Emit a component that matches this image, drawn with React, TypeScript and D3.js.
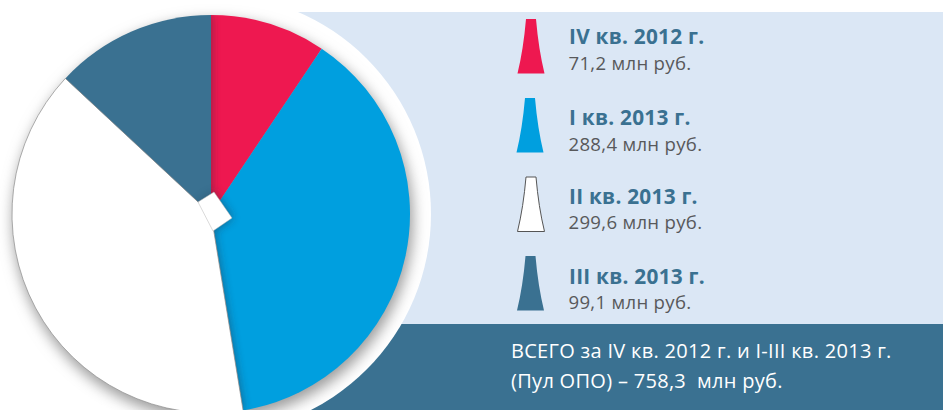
import React from "react";
import * as d3 from "d3";

const W = 943, H = 410;
const quarters = ["IV кв. 2012 г.", "I кв. 2013 г.", "II кв. 2013 г.", "III кв. 2013 г."];
const values = [71.2, 288.4, 299.6, 99.1];
const valueLabels = ["71,2 млн руб.", "288,4 млн руб.", "299,6 млн руб.", "99,1 млн руб."];
const colors = ["#ee1850", "#009fdf", "#ffffff", "#3a7191"];
const totalLines = ["ВСЕГО за IV кв. 2012 г. и I-III кв. 2013 г.", "(Пул ОПО) – 758,3  млн руб."];

const cx = 211, cy = 214, R = 199, ringR = 220;
const FONT = "'Open Sans', sans-serif";

const arcs = d3.pie<number>().sort(null)(values);
const arcGen = d3.arc<d3.PieArcDatum<number>>().innerRadius(0).outerRadius(R);

// White rotated tab at the pie centre, relative to (cx, cy)
const notch = [[-13, -12], [3, -22], [21, 4], [2, 17]];
const notchPath = d3.line()(notch as [number, number][]) + "Z";

// Legend glyph: a narrow-topped flared bell, drawn in unit space
const bellX = d3.scaleLinear().domain([-1, 1]).range([-13.5, 13.5]);
const bellY = d3.scaleLinear().domain([0, 1]).range([0, 54.5]);
const bellPts: [number, number][] = [[-0.37, 0], [0.37, 0], [0.56, 0.55], [1, 1], [-1, 1], [-0.56, 0.55]];
const bellPath = (() => {
  const p = bellPts.map(([x, y]) => [bellX(x), bellY(y)]);
  return `M${p[0]}L${p[1]}Q${p[2]} ${p[3]}L${p[4]}Q${p[5]} ${p[0]}Z`;
})();
const legendX = [531, 530, 531, 530.5];
const legendTop = [19, 98, 177, 256];
const headerBase = [44, 125, 204, 284];
const valueBase = [70, 151, 229, 309];
const pieT = `translate(${cx},${cy})`;

export default function App() {
  return (
    <svg width={W} height={H} viewBox={`0 0 ${W} ${H}`} style={{ position: "fixed", left: 0, top: 0, background: "#fff" }}>
      <defs>
        <filter id="ringBlur" x="-30%" y="-30%" width="160%" height="160%"><feGaussianBlur stdDeviation="7" /></filter>
        <filter id="edgeBlur" x="-30%" y="-30%" width="160%" height="160%"><feGaussianBlur stdDeviation="5" /></filter>
        <clipPath id="ringClip"><circle cx={cx} cy={cy} r={ringR} /></clipPath>
        <clipPath id="colourClip">
          <path transform={pieT} d={arcGen(arcs[0])!} />
          <path transform={pieT} d={arcGen(arcs[1])!} />
        </clipPath>
        <clipPath id="darkClip">
          <path transform={pieT} d={arcGen(arcs[3])!} />
        </clipPath>
      </defs>

      <rect x={200} y={12} width={W - 200} height={312} fill="#dbe7f5" />
      <rect x={200} y={324} width={W - 200} height={H - 324} fill="#3a7191" />

      <circle cx={cx} cy={cy} r={ringR} fill="#fff" />
      <g clipPath="url(#ringClip)">
        <circle cx={cx + 2} cy={cy + 6} r={R + 1} fill="#9c9c9c" filter="url(#ringBlur)" />
      </g>

      <g transform={pieT}>
        {arcs.map((a, i) => <path key={i} d={arcGen(a)!} fill={colors[i]} />)}
      </g>

      <g clipPath="url(#colourClip)">
        <g transform={pieT} filter="url(#edgeBlur)" fill="#2a2a3a" opacity={0.55}>
          <path d={arcGen(arcs[2])!} />
          <path d={arcGen(arcs[3])!} />
          <path d={notchPath} />
        </g>
      </g>
      <g clipPath="url(#darkClip)">
        <path transform={pieT} d={notchPath} fill="#1c3a4e" opacity={0.35} filter="url(#edgeBlur)" />
      </g>

      <g transform={pieT}>
        <path d={arcGen(arcs[2])!} fill="none" stroke="#8c8c8c" strokeWidth={0.7} />
        <path d={notchPath} fill="#fff" stroke="#b5b5b5" strokeWidth={0.5} />
      </g>

      {quarters.map((q, i) => (
        <g key={q}>
          <path
            d={bellPath}
            transform={`translate(${legendX[i]},${legendTop[i]})`}
            fill={colors[i]}
            stroke={i === 2 ? "#555" : "none"}
            strokeWidth={1}
          />
          <text x={569} y={headerBase[i]} fontFamily={FONT} fontWeight={700} fontSize={20.8} letterSpacing={0.25} fill="#3a7191">{q}</text>
          <text x={568.5} y={valueBase[i]} fontFamily={FONT} fontSize={18.6} letterSpacing={0.3} fill="#58595b">{valueLabels[i]}</text>
        </g>
      ))}

      {totalLines.map((t, i) => (
        <text key={i} x={511} y={358 + i * 30} fontFamily={FONT} fontSize={20} letterSpacing={0.3} fill="#fff" xmlSpace="preserve">{t}</text>
      ))}
    </svg>
  );
}
